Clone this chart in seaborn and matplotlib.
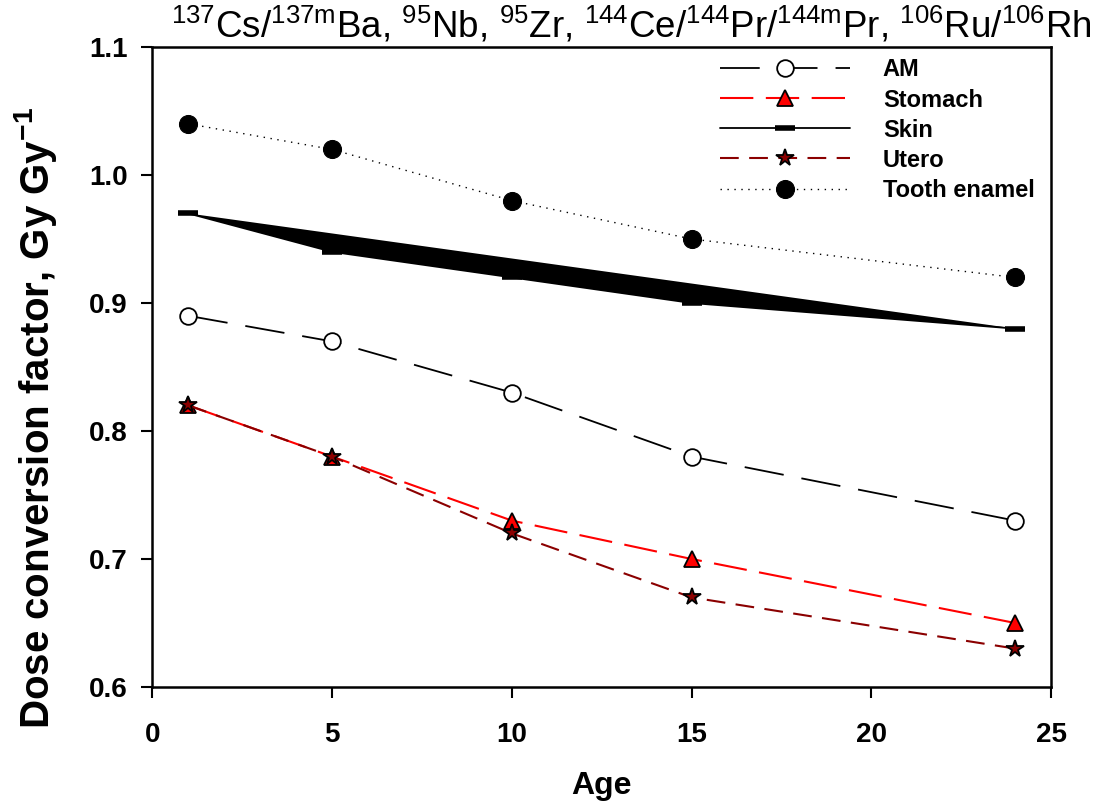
import matplotlib
matplotlib.use('Agg')
import matplotlib.pyplot as plt
import seaborn as sns

# Data
ages = [1, 5, 10, 15, 24]
am = [0.89, 0.87, 0.83, 0.78, 0.73]
stomach = [0.82, 0.78, 0.73, 0.70, 0.65]
skin = [0.97, 0.94, 0.92, 0.90, 0.88]
utero = [0.82, 0.78, 0.72, 0.67, 0.63]
tooth = [1.04, 1.02, 0.98, 0.95, 0.92]

x_ticks = [0, 5, 10, 15, 20, 25]
y_ticks = [0.6, 0.7, 0.8, 0.9, 1.0, 1.1]

sns.set_style('ticks')
plt.rcParams['font.family'] = ['Liberation Sans', 'DejaVu Sans']
plt.rcParams['mathtext.fontset'] = 'custom'
plt.rcParams['mathtext.rm'] = 'Liberation Sans'
plt.rcParams['mathtext.bf'] = 'Liberation Sans:bold'
plt.rcParams['mathtext.default'] = 'regular'
for k in ['text.color', 'axes.labelcolor', 'xtick.color', 'ytick.color', 'axes.edgecolor']:
    plt.rcParams[k] = 'black'

fig = plt.figure(figsize=(11.17, 8.11), dpi=100)
ax = fig.add_axes([0.1365, 0.1529, 0.8045, 0.7891])

# Skin: the filled band between the data line and its end-to-end chord
ax.fill(ages, skin, color='black', lw=0)

sns.lineplot(x=ages, y=am, ax=ax, color='black', linestyle=(0, (22, 10)), lw=1.3,
             marker='o', markersize=12, markerfacecolor='white',
             markeredgecolor='black', markeredgewidth=1.3, label='AM')
sns.lineplot(x=ages, y=stomach, ax=ax, color='red', linestyle=(0, (16, 6)), lw=1.5,
             marker='^', markersize=12, markerfacecolor='red',
             markeredgecolor='black', markeredgewidth=1.3, label='Stomach')
sns.lineplot(x=ages, y=skin, ax=ax, color='black', linestyle='-', lw=1.3,
             marker='_', markersize=14, markeredgewidth=4,
             markeredgecolor='black', label='Skin')
sns.lineplot(x=ages, y=utero, ax=ax, color='#8B0000', linestyle=(0, (9, 5)), lw=1.5,
             marker='*', markersize=13, markerfacecolor='#8B0000',
             markeredgecolor='black', markeredgewidth=1.3, label='Utero')
sns.lineplot(x=ages, y=tooth, ax=ax, color='black', linestyle=(0, (1, 4)), lw=1.0,
             marker='o', markersize=13, markerfacecolor='black',
             markeredgecolor='black', label='Tooth enamel')

ax.set_xlim(0, 25)
ax.set_ylim(0.6, 1.1)
ax.set_xticks(x_ticks)
ax.set_yticks(y_ticks)
ax.set_xticklabels([str(t) for t in x_ticks])
ax.set_yticklabels([f'{t:.1f}' for t in y_ticks])
ax.tick_params(direction='out', length=8, width=1.5, labelsize=20, pad=10)
ax.tick_params(axis='x', pad=17)
for lab in ax.get_xticklabels() + ax.get_yticklabels():
    lab.set_fontweight('bold')
for s in ax.spines.values():
    s.set_linewidth(1.8)

ax.set_xlabel('Age', fontsize=23, fontweight='bold')
ax.xaxis.set_label_coords(0.5, -0.132)
ax.set_ylabel(r'Dose conversion factor, Gy Gy$^{\mathbf{-1}}$', fontsize=29,
              fontweight='bold')
ax.yaxis.set_label_coords(-0.104, 0.42)

leg = ax.legend(loc='upper right', bbox_to_anchor=(1.0, 1.008), frameon=False,
                fontsize=17, handlelength=5.5, handletextpad=1.4,
                labelspacing=0.3, borderaxespad=0.3)
for t in leg.get_texts():
    t.set_fontweight('bold')

fig.text(0.565, 1 - 37 / 811,
         r'$^{137}$Cs/$^{137m}$Ba, $^{95}$Nb, $^{95}$Zr, $^{144}$Ce/$^{144}$Pr/$^{144m}$Pr, $^{106}$Ru/$^{106}$Rh',
         ha='center', va='baseline', fontsize=26.5)

fig.savefig('out.png', dpi=100)
